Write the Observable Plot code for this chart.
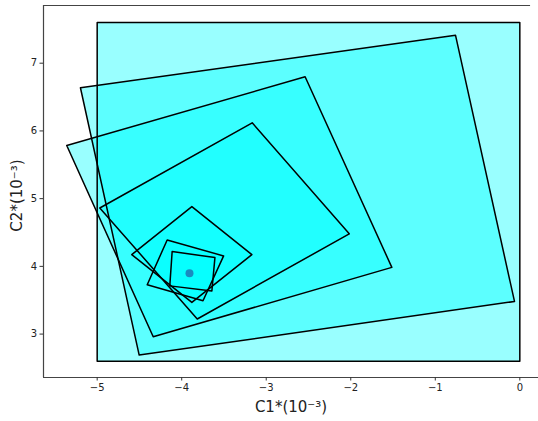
<!DOCTYPE html>
<html>
<head>
<meta charset="utf-8">
<script src="https://cdn.jsdelivr.net/npm/d3@7"></script>
<script src="https://cdn.jsdelivr.net/npm/@observablehq/plot@0.6"></script>
<style>
  html, body { margin: 0; padding: 0; background: #fff; }
  #chart { width: 538px; height: 421px; }
</style>
</head>
<body>
<div id="chart"></div>
<script>
// Polygon vertices (C1, C2), in units of 10^-3
const square1 = [[-5.000, 2.600], [-5.000, 7.600], [0.000, 7.600], [0.000, 2.600]];
const square2 = [[-5.198, 6.637], [-0.761, 7.414], [-0.063, 3.482], [-4.503, 2.690]];
const square3 = [[-5.360, 5.784], [-2.540, 6.800], [-1.514, 3.985], [-4.337, 2.960]];
const square4 = [[-4.969, 4.862], [-3.166, 6.120], [-2.018, 4.480], [-3.816, 3.223]];
const square5 = [[-4.591, 4.173], [-3.880, 4.882], [-3.170, 4.173], [-3.880, 3.468]];
const square6 = [[-4.172, 4.390], [-3.504, 4.154], [-3.748, 3.493], [-4.408, 3.729]];
const square7 = [[-4.113, 4.219], [-3.607, 4.130], [-3.643, 3.638], [-4.141, 3.712]];
const centerPoint = [[-3.908, 3.897]];

const xTicks = [-5, -4, -3, -2, -1, 0];
const yTicks = [3, 4, 5, 6, 7];
const xLabel = "C1*(10⁻³)";
const yLabel = "C2*(10⁻³)";

const squares = [square1, square2, square3, square4, square5, square6, square7];
const rows = squares.flatMap((sq, i) => sq.map(([x, y]) => ({id: i, x, y})));
const pts = centerPoint.map(([x, y]) => ({x, y}));

const xDomain = [-5.635, 0.221];
const yDomain = [2.359, 7.852];
const fmt = d => d < 0 ? "\u2212" + Math.abs(d) : String(d);

const chart = Plot.plot({
  width: 538,
  height: 421,
  marginLeft: 43,
  marginRight: 0,
  marginTop: 5,
  marginBottom: 44,
  style: {fontFamily: "DejaVu Sans", fontSize: "10px", color: "#222", background: "#fff"},
  x: {domain: xDomain},
  y: {domain: yDomain},
  marks: [
    Plot.line(rows, {x: "x", y: "y", z: "id", curve: "linear-closed", fill: "cyan", fillOpacity: 0.4, stroke: "none"}),
    Plot.line(rows, {x: "x", y: "y", z: "id", curve: "linear-closed", fill: "none", stroke: "black", strokeWidth: 1.5}),
    Plot.dot(pts, {x: "x", y: "y", r: 4, fill: "#1f77b4", fillOpacity: 0.85, stroke: "none"}),
    // spines
    Plot.ruleX([xDomain[0]], {y1: yDomain[0], y2: yDomain[1], stroke: "#444", strokeWidth: 1.2}),
    Plot.ruleY([yDomain[0]], {x1: xDomain[0], x2: xDomain[1], stroke: "#444", strokeWidth: 1.2}),
    Plot.ruleY([yDomain[1]], {x1: xDomain[0], x2: 0.127, stroke: "#444", strokeWidth: 1.2}),
    Plot.axisX(xTicks, {tickSize: 3.5, tickPadding: 3, stroke: "#333", fill: "#222", label: null, tickFormat: fmt}),
    Plot.axisY(yTicks, {tickSize: 3.5, tickPadding: 3, stroke: "#333", fill: "#222", label: null, tickFormat: fmt}),
    Plot.text([xLabel], {frameAnchor: "bottom", dy: 30, lineAnchor: "middle", fontSize: 15, fill: "#222"}),
    Plot.text([yLabel], {x: xDomain[0] - 26 / 84.5, y: (yDomain[0] + yDomain[1]) / 2 - 4 / 67.7, rotate: -90, lineAnchor: "middle", textAnchor: "middle", fontSize: 15, fill: "#222"})
  ]
});
document.getElementById("chart").appendChild(chart);
</script>
</body>
</html>
